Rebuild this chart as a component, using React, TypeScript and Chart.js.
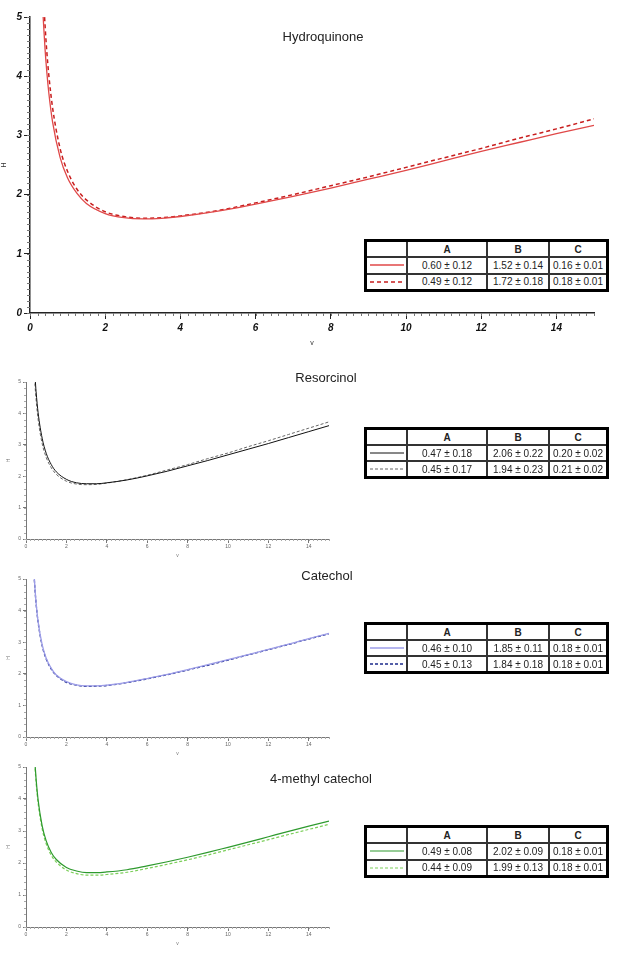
import React, { useEffect, useRef } from 'react';
import { Chart, registerables } from 'chart.js';

Chart.register(...registerables);

// Linear velocity grid (v) shared by every curve
const vGrid = [0.35, 0.4, 0.45, 0.5, 0.6, 0.8, 1, 1.25, 1.5, 2, 2.5, 3, 3.5, 4, 5, 6, 7, 8, 9, 10, 11, 12, 13, 14, 15];

// Plate height H for each compound (solid / dashed curve)
const hydroquinoneSolid = [5.0, 4.46, 4.05, 3.72, 3.23, 2.63, 2.28, 2.02, 1.85, 1.68, 1.61, 1.59, 1.6, 1.63, 1.72, 1.84, 1.97, 2.11, 2.26, 2.41, 2.57, 2.73, 2.88, 3.03, 3.17];
const hydroquinoneDashed = [5.47, 4.86, 4.39, 4.02, 3.47, 2.78, 2.39, 2.09, 1.91, 1.71, 1.63, 1.6, 1.61, 1.64, 1.73, 1.86, 2.0, 2.15, 2.3, 2.46, 2.62, 2.78, 2.95, 3.11, 3.28];
const resorcinolSolid = [6.43, 5.7, 5.14, 4.69, 4.02, 3.21, 2.73, 2.37, 2.14, 1.9, 1.79, 1.76, 1.76, 1.79, 1.88, 2.01, 2.16, 2.33, 2.5, 2.68, 2.86, 3.04, 3.23, 3.42, 3.61];
const resorcinolDashed = [6.07, 5.38, 4.86, 4.44, 3.81, 3.04, 2.6, 2.27, 2.06, 1.84, 1.75, 1.73, 1.74, 1.78, 1.89, 2.03, 2.2, 2.37, 2.56, 2.74, 2.94, 3.13, 3.33, 3.53, 3.73];
const catecholSolid = [5.81, 5.16, 4.65, 4.25, 3.65, 2.92, 2.49, 2.17, 1.96, 1.75, 1.65, 1.62, 1.62, 1.64, 1.73, 1.85, 1.98, 2.13, 2.29, 2.45, 2.61, 2.77, 2.94, 3.11, 3.28];
const catecholDashed = [5.77, 5.12, 4.62, 4.22, 3.63, 2.89, 2.47, 2.15, 1.95, 1.73, 1.64, 1.6, 1.61, 1.63, 1.72, 1.84, 1.97, 2.12, 2.27, 2.43, 2.6, 2.76, 2.93, 3.1, 3.27];
const methylCatecholSolid = [6.32, 5.61, 5.06, 4.62, 3.97, 3.16, 2.69, 2.33, 2.11, 1.86, 1.75, 1.7, 1.7, 1.72, 1.79, 1.91, 2.04, 2.18, 2.33, 2.49, 2.65, 2.82, 2.99, 3.15, 3.31];
const methylCatecholDashed = [6.2, 5.5, 4.96, 4.52, 3.87, 3.07, 2.6, 2.24, 2.03, 1.78, 1.67, 1.62, 1.62, 1.64, 1.71, 1.83, 1.96, 2.1, 2.25, 2.41, 2.57, 2.73, 2.89, 3.05, 3.21];

// Fitted van Deemter coefficients (solid row, dashed row)
const hydroquinoneA = ['0.60 ± 0.12', '0.49 ± 0.12'];
const hydroquinoneB = ['1.52 ± 0.14', '1.72 ± 0.18'];
const hydroquinoneC = ['0.16 ± 0.01', '0.18 ± 0.01'];
const resorcinolA = ['0.47 ± 0.18', '0.45 ± 0.17'];
const resorcinolB = ['2.06 ± 0.22', '1.94 ± 0.23'];
const resorcinolC = ['0.20 ± 0.02', '0.21 ± 0.02'];
const catecholA = ['0.46 ± 0.10', '0.45 ± 0.13'];
const catecholB = ['1.85 ± 0.11', '1.84 ± 0.18'];
const catecholC = ['0.18 ± 0.01', '0.18 ± 0.01'];
const methylCatecholA = ['0.49 ± 0.08', '0.44 ± 0.09'];
const methylCatecholB = ['2.02 ± 0.09', '1.99 ± 0.13'];
const methylCatecholC = ['0.18 ± 0.01', '0.18 ± 0.01'];

const tableHeader = ['', 'A', 'B', 'C'];

const FONT = "'Liberation Sans', Arial, sans-serif";

type Series = { values: number[]; color: string; width: number; dash: number[] };

type PanelSpec = {
  title: string;
  titleX: number;
  titleY: number;
  canvasLeft: number;
  canvasTop: number;
  canvasWidth: number;
  canvasHeight: number;
  yWidth: number;
  xHeight: number;
  padTop: number;
  padRight: number;
  big: boolean;
  series: Series[];
  table: { left: number; top: number; width: number; height: number };
  colA: string[];
  colB: string[];
  colC: string[];
};

// Short unlabeled ticks between the labelled ones
const minorTicks = {
  id: 'minorTicks',
  afterDraw(chart: any, _args: any, opts: any) {
    const { ctx, chartArea, scales } = chart;
    const xs = scales.x;
    const ys = scales.y;
    ctx.save();
    ctx.strokeStyle = opts.color;
    ctx.lineWidth = opts.width;
    ctx.beginPath();
    for (let i = 0; ; i++) {
      const v = xs.min + i * opts.xStep;
      if (v > xs.max + 1e-9) break;
      const px = Math.round(xs.getPixelForValue(v)) + 0.5;
      ctx.moveTo(px, chartArea.bottom);
      ctx.lineTo(px, chartArea.bottom + opts.len);
    }
    for (let i = 0; ; i++) {
      const v = ys.min + i * opts.yStep;
      if (v > ys.max + 1e-9) break;
      const py = Math.round(ys.getPixelForValue(v)) + 0.5;
      ctx.moveTo(chartArea.left, py);
      ctx.lineTo(chartArea.left - opts.len, py);
    }
    ctx.stroke();
    ctx.restore();
  },
};

function VanDeemterChart({ spec }: { spec: PanelSpec }) {
  const ref = useRef<HTMLCanvasElement | null>(null);

  useEffect(() => {
    if (!ref.current) return;
    const big = spec.big;
    const tickFont = big
      ? { family: FONT, size: 10, weight: 'bold' as const, style: 'italic' as const }
      : { family: FONT, size: 5 };
    const tickColor = big ? '#111' : '#666';
    const axisColor = big ? '#222' : '#777';

    const chart = new Chart(ref.current, {
      type: 'scatter',
      data: {
        datasets: spec.series.map((s) => ({
          data: vGrid.map((v, i) => ({ x: v, y: s.values[i] })),
          showLine: true,
          borderColor: s.color,
          borderWidth: s.width,
          borderDash: s.dash,
          pointRadius: 0,
          cubicInterpolationMode: 'monotone' as const,
          clip: 0,
        })),
      },
      plugins: [minorTicks],
      options: {
        responsive: false,
        animation: false,
        devicePixelRatio: 1,
        layout: { padding: { top: spec.padTop, right: spec.padRight, left: 0, bottom: 0 } },
        plugins: {
          legend: { display: false },
          tooltip: { enabled: false },
          minorTicks: {
            xStep: 0.2,
            yStep: big ? 0.1 : 0.2,
            len: big ? 3 : 2,
            color: big ? '#777' : '#aaa',
            width: 1,
          },
        } as any,
        scales: {
          x: {
            type: 'linear',
            min: 0,
            max: 15,
            afterFit: (scale: any) => {
              scale.height = spec.xHeight;
            },
            border: { color: axisColor, width: big ? 1.5 : 1 },
            grid: {
              drawOnChartArea: false,
              drawTicks: true,
              tickLength: big ? 6 : 4,
              color: axisColor,
              lineWidth: 1,
            },
            ticks: {
              stepSize: 2,
              includeBounds: false,
              autoSkip: false,
              maxRotation: 0,
              padding: big ? 3 : 1,
              color: tickColor,
              font: tickFont,
            },
            title: {
              display: true,
              text: 'v',
              color: big ? '#333' : '#777',
              font: { family: FONT, size: big ? 7 : 5 },
              padding: 0,
            },
          },
          y: {
            type: 'linear',
            min: 0,
            max: 5,
            afterFit: (scale: any) => {
              scale.width = spec.yWidth;
            },
            border: { color: axisColor, width: big ? 1.5 : 1 },
            grid: {
              drawOnChartArea: false,
              drawTicks: true,
              tickLength: big ? 6 : 3,
              color: axisColor,
              lineWidth: 1,
            },
            ticks: {
              stepSize: 1,
              padding: 2,
              color: tickColor,
              font: tickFont,
            },
            title: {
              display: true,
              text: 'H',
              color: big ? '#333' : '#777',
              font: { family: FONT, size: big ? 7 : 5 },
              padding: 0,
            },
          },
        },
      },
    });
    return () => chart.destroy();
  }, [spec]);

  return (
    <canvas
      ref={ref}
      width={spec.canvasWidth}
      height={spec.canvasHeight}
      style={{
        position: 'absolute',
        left: spec.canvasLeft,
        top: spec.canvasTop,
        width: spec.canvasWidth,
        height: spec.canvasHeight,
      }}
    />
  );
}

function LineSample({ s }: { s: Series }) {
  return (
    <svg width={34} height={4} style={{ display: 'block' }}>
      <line
        x1={0}
        y1={2}
        x2={34}
        y2={2}
        stroke={s.color}
        strokeWidth={Math.max(1, s.width)}
        strokeDasharray={s.dash.length ? s.dash.join(' ') : undefined}
      />
    </svg>
  );
}

function FitTable({ spec }: { spec: PanelSpec }) {
  const cell: React.CSSProperties = {
    background: '#fff',
    display: 'flex',
    alignItems: 'center',
    justifyContent: 'center',
    color: '#222',
    whiteSpace: 'nowrap',
  };
  const t = spec.table;
  return (
    <div
      style={{
        position: 'absolute',
        left: t.left,
        top: t.top,
        width: t.width,
        height: t.height,
        boxSizing: 'border-box',
        border: '3px solid #000',
        background: '#333',
        display: 'grid',
        gridTemplateColumns: '39px 78px 60px 1fr',
        gridTemplateRows: '1fr 1fr 1fr',
        gap: '2px',
        fontFamily: FONT,
        fontSize: 10,
      }}
    >
      {tableHeader.map((h, i) => (
        <div key={'h' + i} style={{ ...cell, fontWeight: 'bold' }}>
          {h}
        </div>
      ))}
      {[0, 1].map((r) => (
        <React.Fragment key={'r' + r}>
          <div style={cell}>
            <LineSample s={spec.series[r]} />
          </div>
          <div style={cell}>{spec.colA[r]}</div>
          <div style={cell}>{spec.colB[r]}</div>
          <div style={cell}>{spec.colC[r]}</div>
        </React.Fragment>
      ))}
    </div>
  );
}

const panels: PanelSpec[] = [
  {
    title: 'Hydroquinone',
    titleX: 323,
    titleY: 36,
    canvasLeft: 0,
    canvasTop: 0,
    canvasWidth: 623,
    canvasHeight: 347,
    yWidth: 30,
    xHeight: 34,
    padTop: 17,
    padRight: 29,
    big: true,
    series: [
      { values: hydroquinoneSolid, color: '#e04848', width: 1.3, dash: [] },
      { values: hydroquinoneDashed, color: '#c81e1e', width: 1.5, dash: [4, 3] },
    ],
    table: { left: 364, top: 239, width: 245, height: 53 },
    colA: hydroquinoneA,
    colB: hydroquinoneB,
    colC: hydroquinoneC,
  },
  {
    title: 'Resorcinol',
    titleX: 326,
    titleY: 377,
    canvasLeft: 6,
    canvasTop: 370,
    canvasWidth: 334,
    canvasHeight: 189,
    yWidth: 20,
    xHeight: 20,
    padTop: 12,
    padRight: 11,
    big: false,
    series: [
      { values: resorcinolSolid, color: '#111', width: 1, dash: [] },
      { values: resorcinolDashed, color: '#666', width: 1, dash: [3, 2] },
    ],
    table: { left: 364, top: 427, width: 245, height: 52 },
    colA: resorcinolA,
    colB: resorcinolB,
    colC: resorcinolC,
  },
  {
    title: 'Catechol',
    titleX: 327,
    titleY: 575,
    canvasLeft: 6,
    canvasTop: 567,
    canvasWidth: 334,
    canvasHeight: 190,
    yWidth: 20,
    xHeight: 20,
    padTop: 12,
    padRight: 11,
    big: false,
    series: [
      { values: catecholSolid, color: '#9d9de8', width: 1.3, dash: [] },
      { values: catecholDashed, color: '#1d2b8c', width: 1.3, dash: [3, 2] },
    ],
    table: { left: 364, top: 622, width: 245, height: 52 },
    colA: catecholA,
    colB: catecholB,
    colC: catecholC,
  },
  {
    title: '4-methyl catechol',
    titleX: 321,
    titleY: 778,
    canvasLeft: 6,
    canvasTop: 755,
    canvasWidth: 334,
    canvasHeight: 192,
    yWidth: 20,
    xHeight: 20,
    padTop: 12,
    padRight: 11,
    big: false,
    series: [
      { values: methylCatecholSolid, color: '#2e9a2e', width: 1.2, dash: [] },
      { values: methylCatecholDashed, color: '#7ccf5a', width: 1.2, dash: [3, 2] },
    ],
    table: { left: 364, top: 825, width: 245, height: 53 },
    colA: methylCatecholA,
    colB: methylCatecholB,
    colC: methylCatecholC,
  },
];

export default function App() {
  return (
    <div
      style={{
        position: 'absolute',
        left: 0,
        top: 0,
        width: 623,
        height: 955,
        background: '#fff',
        overflow: 'hidden',
      }}
    >
      {panels.map((p) => (
        <React.Fragment key={p.title}>
          <VanDeemterChart spec={p} />
          <div
            style={{
              position: 'absolute',
              left: p.titleX,
              top: p.titleY,
              transform: 'translate(-50%, -50%)',
              fontFamily: FONT,
              fontSize: 13,
              color: '#222',
              whiteSpace: 'nowrap',
            }}
          >
            {p.title}
          </div>
          <FitTable spec={p} />
        </React.Fragment>
      ))}
    </div>
  );
}
